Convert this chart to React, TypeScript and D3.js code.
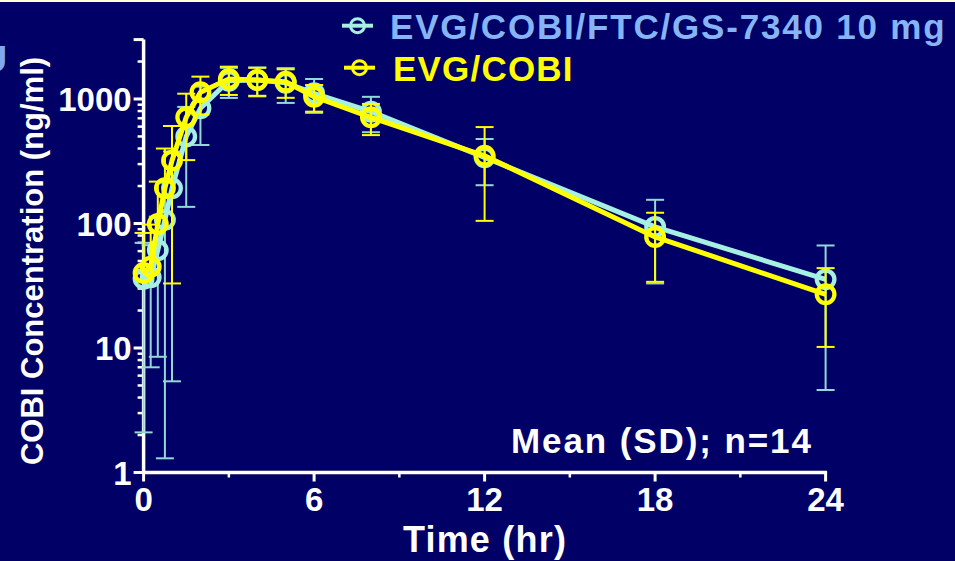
import React from "react";
import * as d3 from "d3";

const times = [0, 0.25, 0.5, 0.75, 1, 1.5, 2, 3, 4, 5, 6, 8, 12, 18, 24];
// EVG/COBI/FTC/GS-7340 10 mg (cyan)
const cyanMean = [36, 37, 61, 107, 192, 500, 842, 1400, 1420, 1350, 1111, 791, 340, 94, 35.6];
const cyanSD = [33.9, 30, 52.5, 105.7, 186.6, 364, 415, 380, 370, 420, 337, 250, 137, 61, 31];
// EVG/COBI (yellow)
const yellowMean = [40, 45, 99, 192, 320, 713, 1132, 1448, 1421, 1377, 1043, 713, 350, 78, 27];
const yellowSD = [44, 53, 118, 208, 287, 390, 380, 370, 360, 355, 252, 200, 245, 44, 16.8];

const xTicks = [0, 6, 12, 18, 24];
const xMinorTicks = [3, 9, 15, 21];
const yTicks = [1, 10, 100, 1000];
const yTickLabels = ["1", "10", "100", "1000"];
const legendLabels = ["EVG/COBI/FTC/GS-7340 10 mg", "EVG/COBI"];
const xTitle = "Time (hr)";
const yTitle = "COBI Concentration (ng/ml)";
const note = "Mean (SD); n=14";

const BG = "#000066";
const CYAN = "#A6F0E2";
const CYAN_BAR = "#94D8D6";
const YELLOW = "#FFFF00";
const LEGEND_BLUE = "#86B4F4";
const FONT = "'Liberation Sans', Arial, Helvetica, sans-serif";

const W = 955;
const H = 561;

const x = d3.scaleLinear().domain([0, 24]).range([143.6, 825.6]);
const y = d3.scaleLog().domain([1, 3000]).range([472.5, 472.5 - Math.log10(3000) * 124.5]);

const yMinor: number[] = [];
[1, 10, 100, 1000].forEach((d) => {
  for (let k = 2; k <= 9; k++) {
    const v = d * k;
    if (v <= 3000) yMinor.push(v);
  }
});

type Series = { mean: number[]; sd: number[]; color: string; bar: string };

const series: Series[] = [
  { mean: cyanMean, sd: cyanSD, color: CYAN, bar: CYAN_BAR },
  { mean: yellowMean, sd: yellowSD, color: YELLOW, bar: YELLOW },
];

const line = d3
  .line<number>()
  .x((_, i) => x(times[i]))
  .y((d) => y(d));

function ErrorBars({ s }: { s: Series }) {
  const cap = 9;
  return (
    <g stroke={s.bar} strokeWidth={2} fill="none">
      {s.mean.map((m, i) => {
        const cx = x(times[i]);
        const hi = m + s.sd[i];
        const lo = m - s.sd[i];
        const yHi = y(hi);
        const yM = y(m);
        const parts = [
          <line key="u" x1={cx} x2={cx} y1={yM} y2={yHi} />,
          <line key="uc" x1={cx - cap} x2={cx + cap} y1={yHi} y2={yHi} />,
        ];
        if (lo > 0) {
          const yLo = y(lo);
          parts.push(<line key="d" x1={cx} x2={cx} y1={yM} y2={yLo} />);
          parts.push(<line key="dc" x1={cx - cap} x2={cx + cap} y1={yLo} y2={yLo} />);
        }
        return <g key={i}>{parts}</g>;
      })}
    </g>
  );
}

function SeriesMarks({ s }: { s: Series }) {
  return (
    <g>
      <ErrorBars s={s} />
      <path d={line(s.mean) || ""} fill="none" stroke={s.color} strokeWidth={5} strokeLinejoin="round" />
      {s.mean.map((m, i) => (
        <circle key={i} cx={x(times[i])} cy={y(m)} r={8.8} fill="none" stroke={s.color} strokeWidth={4.3} />
      ))}
    </g>
  );
}

export default function App() {
  const legendColors = [CYAN, YELLOW];
  const legendText = [LEGEND_BLUE, YELLOW];
  return (
    <svg
      width={W}
      height={H}
      viewBox={`0 0 ${W} ${H}`}
      style={{ position: "fixed", left: 0, top: 0, display: "block" }}
      fontFamily={FONT}
      fontWeight="bold"
    >
      <rect x={0} y={0} width={W} height={H} fill={BG} />
      <rect x={0} y={0} width={W} height={2} fill="#FFFFD8" />
      <text x={-19} y={72} fontSize={36} fill="#80A8F0">U</text>

      {/* axes */}
      <g stroke="#FFFFFF" fill="none">
        <line x1={x(0)} x2={x(0)} y1={y(1) + 1.5} y2={y(3000)} strokeWidth={3.5} />
        <line x1={x(0) - 1.5} x2={x(24) + 1.5} y1={y(1)} y2={y(1)} strokeWidth={3.5} />
        {yTicks.map((t) => (
          <line key={"ym" + t} x1={x(0) - 10} x2={x(0)} y1={y(t)} y2={y(t)} strokeWidth={3} />
        ))}
        {yMinor.map((t) => (
          <line
            key={"yn" + t}
            x1={x(0) - (t === 3000 ? 10 : 6)}
            x2={x(0)}
            y1={y(t)}
            y2={y(t)}
            strokeWidth={t === 3000 ? 3 : 2.5}
          />
        ))}
        {xTicks.map((t) => (
          <line key={"xm" + t} x1={x(t)} x2={x(t)} y1={y(1)} y2={y(1) + 9} strokeWidth={3} />
        ))}
        {xMinorTicks.map((t) => (
          <line key={"xn" + t} x1={x(t)} x2={x(t)} y1={y(1)} y2={y(1) + 5} strokeWidth={2.5} />
        ))}
      </g>

      {/* tick labels */}
      <g fill="#FFFFFF" fontSize={33}>
        {yTicks.map((t, i) => (
          <text key={"yl" + t} x={x(0) - 12} y={y(t) + 12} textAnchor="end">
            {yTickLabels[i]}
          </text>
        ))}
        {xTicks.map((t) => (
          <text key={"xl" + t} x={x(t)} y={511} textAnchor="middle">
            {t}
          </text>
        ))}
      </g>

      <text x={485} y={552} fontSize={36} fill="#FFFFFF" textAnchor="middle" letterSpacing={1.2}>
        {xTitle}
      </text>
      <text
        transform={`translate(43, 261) rotate(-90)`}
        fontSize={31}
        fill="#FFFFFF"
        textAnchor="middle"
      >
        {yTitle}
      </text>
      <text x={511} y={453} fontSize={35} fill="#FFFFFF" letterSpacing={1.9}>
        {note}
      </text>

      {/* data */}
      {series.map((s, i) => (
        <SeriesMarks key={i} s={s} />
      ))}

      {/* legend */}
      {legendLabels.map((lab, i) => {
        const ly = i === 0 ? 25.7 : 67.7;
        const lx = i === 0 ? 342 : 344;
        return (
          <g key={lab}>
            <line x1={lx} x2={lx + 31} y1={ly} y2={ly} stroke={legendColors[i]} strokeWidth={4} />
            <circle cx={lx + 15.5} cy={ly} r={7} fill="none" stroke={legendColors[i]} strokeWidth={3} />
            <text
              x={i === 0 ? 390 : 393}
              y={i === 0 ? 38.5 : 81}
              fontSize={35}
              fill={legendText[i]}
              letterSpacing={i === 0 ? 1.8 : 1.2}
            >
              {lab}
            </text>
          </g>
        );
      })}
    </svg>
  );
}
